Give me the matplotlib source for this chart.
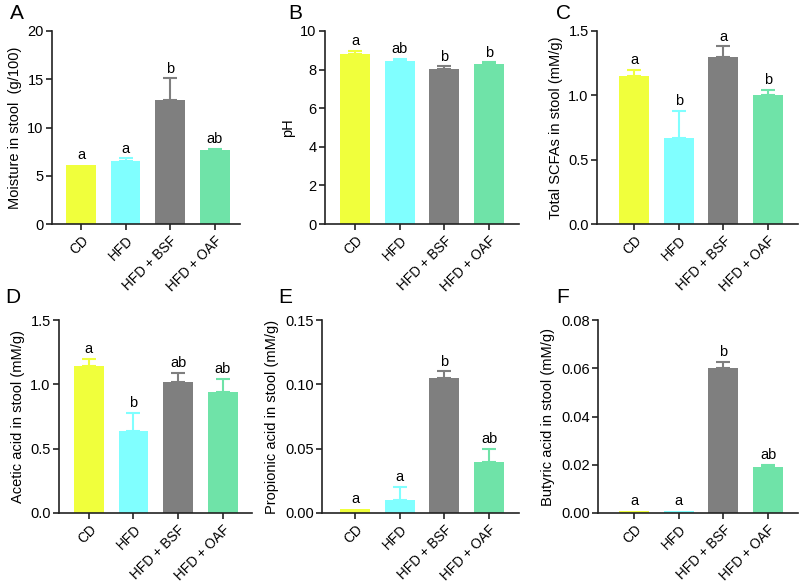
import matplotlib
matplotlib.use("Agg")
import matplotlib.pyplot as plt

plt.rcParams["font.family"] = ["Liberation Sans", "DejaVu Sans"]
plt.rcParams["font.size"] = 10

# ---- Data ----
groups = ["CD", "HFD", "HFD + BSF", "HFD + OAF"]
colors = ["#F0FF3C", "#80FFFF", "#7F7F7F", "#6FE3A8"]

moisture = [6.1, 6.5, 12.8, 7.7]
moisture_err = [0.0, 0.3, 2.3, 0.05]
moisture_sig = ["a", "a", "b", "ab"]

ph = [8.8, 8.45, 8.05, 8.3]
ph_err = [0.15, 0.12, 0.12, 0.07]
ph_sig = ["a", "ab", "b", "b"]

total_scfa = [1.15, 0.67, 1.30, 1.00]
total_scfa_err = [0.05, 0.21, 0.08, 0.04]
total_scfa_sig = ["a", "b", "a", "b"]

acetic = [1.14, 0.64, 1.02, 0.94]
acetic_err = [0.06, 0.14, 0.07, 0.10]
acetic_sig = ["a", "b", "ab", "ab"]

propionic = [0.003, 0.010, 0.105, 0.040]
propionic_err = [0.0, 0.010, 0.005, 0.010]
propionic_sig = ["a", "a", "b", "ab"]

butyric = [0.001, 0.001, 0.060, 0.019]
butyric_err = [0.0, 0.0, 0.0025, 0.001]
butyric_sig = ["a", "a", "b", "ab"]

W, H = 800, 582


def px_axes(fig, x0, x1, y_top, y_bot):
    return fig.add_axes([x0 / W, 1 - y_bot / H, (x1 - x0) / W, (y_bot - y_top) / H])


def bar_panel(ax, vals, errs, sig, ylabel, yticks, ticklabels, xlim):
    x = list(range(len(groups)))
    for i in x:
        ax.bar(i, vals[i], width=0.67, color=colors[i], zorder=2)
        if errs[i] > 0:
            ax.errorbar(i, vals[i], yerr=[[0], [errs[i]]], fmt="none",
                        ecolor=colors[i], elinewidth=1.5, capsize=5, capthick=1.5, zorder=1)
        ax.annotate(sig[i], (i, vals[i] + errs[i]), xytext=(0, 2), textcoords="offset points",
                    ha="center", va="bottom", fontsize=10.5)
    ax.set_xlim(*xlim)
    ax.set_ylim(yticks[0], yticks[-1])
    ax.set_yticks(yticks)
    ax.set_yticklabels(ticklabels)
    ax.set_xticks(x)
    ax.set_xticklabels(groups, rotation=45, ha="right", rotation_mode="anchor", fontsize=9.8)
    ax.set_ylabel(ylabel, fontsize=10.5)
    for s in ["top", "right"]:
        ax.spines[s].set_visible(False)
    for s in ["left", "bottom"]:
        ax.spines[s].set_linewidth(1.2)
        ax.spines[s].set_color("#222222")
    ax.tick_params(axis="y", direction="out", length=4, width=1.2, color="#222222",
                   labelsize=10.5, pad=2)
    ax.tick_params(axis="x", direction="out", length=4, width=1.2, color="#222222", pad=3)


fig = plt.figure(figsize=(8, 5.82), dpi=100)

axA = px_axes(fig, 52, 240, 31, 224)
bar_panel(axA, moisture, moisture_err, moisture_sig, "Moisture in stool  (g/100)",
          [0, 5, 10, 15, 20], ["0", "5", "10", "15", "20"], (-0.65, 3.57))

axB = px_axes(fig, 325, 519, 31, 224)
bar_panel(axB, ph, ph_err, ph_sig, "pH",
          [0, 2, 4, 6, 8, 10], ["0", "2", "4", "6", "8", "10"], (-0.67, 3.67))

axC = px_axes(fig, 597, 798, 31, 224)
bar_panel(axC, total_scfa, total_scfa_err, total_scfa_sig, "Total SCFAs in stool (mM/g)",
          [0, 0.5, 1.0, 1.5], ["0.0", "0.5", "1.0", "1.5"], (-0.83, 3.67))

axD = px_axes(fig, 59, 252, 320, 513)
bar_panel(axD, acetic, acetic_err, acetic_sig, "Acetic acid in stool (mM/g)",
          [0, 0.5, 1.0, 1.5], ["0.0", "0.5", "1.0", "1.5"], (-0.67, 3.66))

axE = px_axes(fig, 322, 519, 320, 513)
bar_panel(axE, propionic, propionic_err, propionic_sig, "Propionic acid in stool (mM/g)",
          [0, 0.05, 0.10, 0.15], ["0.00", "0.05", "0.10", "0.15"], (-0.74, 3.67))

axF = px_axes(fig, 598, 798, 320, 513)
bar_panel(axF, butyric, butyric_err, butyric_sig, "Butyric acid in stool (mM/g)",
          [0, 0.02, 0.04, 0.06, 0.08], ["0.00", "0.02", "0.04", "0.06", "0.08"], (-0.81, 3.67))

# panel letters
for lab, xp, yp in [("A", 10, 4), ("B", 288, 4), ("C", 556, 4),
                    ("D", 5, 288), ("E", 278, 288), ("F", 556, 288)]:
    fig.text(xp / W, 1 - yp / H, lab, fontsize=15, ha="left", va="top")

fig.savefig("out.png", dpi=100)
